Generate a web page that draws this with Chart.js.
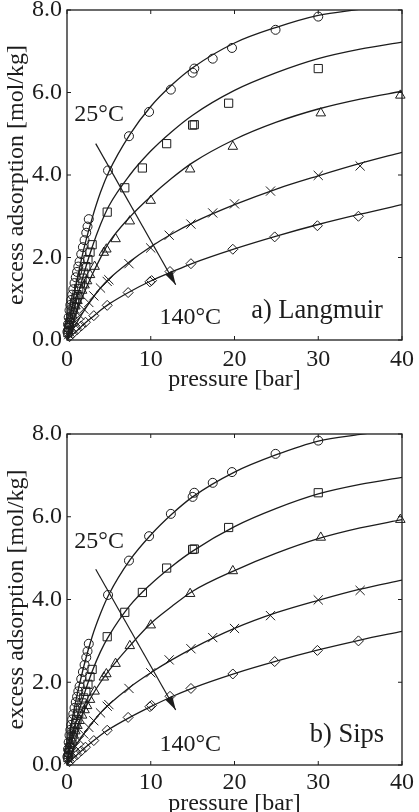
<!DOCTYPE html>
<html><head><meta charset="utf-8">
<script src="https://cdn.jsdelivr.net/npm/chart.js@4.4.0/dist/chart.umd.min.js"></script>
<style>
html,body{margin:0;padding:0;background:#fff;overflow:hidden;width:419px;height:812px;}
.wrap{position:absolute;left:0;width:419px;}
canvas{display:block;}
</style></head><body>
<div class="wrap" style="top:0;height:406px"><canvas id="c1" width="419" height="406" style="width:419px;height:406px"></canvas></div>
<div class="wrap" style="top:406px;height:420px"><canvas id="c2" width="419" height="420" style="width:419px;height:420px"></canvas></div>
<script>
// ---------- axis ticks ----------
const xTicks = [0, 10, 20, 30, 40];
const yTicks = [0, 2, 4, 6, 8];
const yTickLabels = ['0.0', '2.0', '4.0', '6.0', '8.0'];

// ---------- measured points (same in both panels) ----------
// 25°C (circles)
const pCircle = [0.05,0.12,0.2,0.3,0.4,0.5,0.62,0.75,0.9,1.05,1.2,1.35,1.5,1.7,1.9,2.1,2.3,2.45,2.6,4.9,7.4,9.8,12.4,15.0,15.2,17.4,19.7,24.9,30.0];
const qCircle = [0.2,0.38,0.55,0.72,0.85,0.97,1.1,1.23,1.38,1.52,1.65,1.78,1.9,2.08,2.25,2.42,2.6,2.75,2.93,4.11,4.94,5.53,6.07,6.48,6.58,6.82,7.08,7.52,7.84];
// squares
const pSquare = [0.1,0.2,0.3,0.45,0.6,0.75,0.9,1.05,1.2,1.4,1.6,1.8,2.0,2.25,2.5,2.75,3.0,4.8,6.9,9.0,11.9,15.0,15.2,19.3,30.0];
const qSquare = [0.18,0.3,0.42,0.55,0.68,0.8,0.9,1.0,1.1,1.25,1.38,1.5,1.62,1.78,1.95,2.13,2.31,3.1,3.69,4.17,4.76,5.21,5.22,5.74,6.58];
// triangles
const pTri = [0.15,0.3,0.45,0.6,0.8,1.0,1.25,1.5,1.8,2.1,2.4,2.75,3.3,4.4,4.7,5.8,7.5,10.0,14.7,19.8,30.3,39.8];
const qTri = [0.22,0.38,0.5,0.6,0.72,0.82,0.95,1.07,1.2,1.33,1.43,1.58,1.78,2.12,2.2,2.45,2.88,3.38,4.14,4.69,5.5,5.93];
// crosses
const pCross = [0.2,0.6,1.0,1.5,2.0,2.6,3.2,4.0,4.8,5.0,7.4,10.0,12.2,14.8,17.4,20.0,24.3,30.0,35.0];
const qCross = [0.13,0.31,0.45,0.6,0.75,0.91,1.07,1.26,1.42,1.46,1.85,2.23,2.54,2.81,3.08,3.3,3.61,3.99,4.22];
// 140°C (diamonds)
const pDia = [0.3,0.7,1.2,1.7,2.2,3.2,4.8,7.3,9.9,10.1,12.3,14.8,19.8,24.8,29.9,34.8];
const qDia = [0.08,0.16,0.25,0.34,0.43,0.59,0.84,1.15,1.41,1.44,1.66,1.85,2.2,2.5,2.77,3.0];

// ---------- fitted curves ----------
const fitP = [0,0.5,1,2,3,4,5,7.5,10,12.5,15,20,25,30,35,40];
// a) Langmuir
const lang1 = [0,0.68,1.25,2.2,2.95,3.58,4.08,4.98,5.66,6.18,6.6,7.2,7.58,7.87,8.02,8.17];
const lang2 = [0,0.44,0.86,1.6,2.25,2.8,3.25,4.0,4.58,5.05,5.45,6.05,6.48,6.82,7.05,7.22];
const lang3 = [0,0.31,0.6,1.12,1.58,1.99,2.36,2.98,3.48,3.92,4.3,4.86,5.28,5.6,5.84,6.03];
const lang4 = [0,0.18,0.36,0.7,1.0,1.26,1.48,1.9,2.26,2.57,2.84,3.28,3.66,3.98,4.28,4.55];
const lang5 = [0,0.1,0.19,0.38,0.55,0.72,0.87,1.17,1.43,1.65,1.86,2.21,2.52,2.8,3.05,3.28];
// b) Sips
const sips1 = [0,0.95,1.5,2.38,3.1,3.66,4.12,4.95,5.56,6.06,6.48,7.08,7.5,7.83,7.99,8.13];
const sips2 = [0,0.6,1.0,1.68,2.26,2.74,3.12,3.85,4.37,4.8,5.17,5.76,6.2,6.55,6.78,6.95];
const sips3 = [0,0.52,0.82,1.3,1.68,2.0,2.28,2.88,3.42,3.83,4.2,4.7,5.12,5.47,5.73,5.93];
const sips4 = [0,0.27,0.45,0.75,1.02,1.26,1.46,1.88,2.23,2.54,2.82,3.3,3.68,3.98,4.25,4.47];
const sips5 = [0,0.12,0.21,0.39,0.56,0.72,0.86,1.15,1.41,1.65,1.86,2.21,2.51,2.78,3.02,3.23];

// ---------- temperature arrow ----------
const arrowP = [3.43, 12.98];
const arrowQa = [4.76, 1.34];
const arrowQb = [4.73, 1.33];

// ---------- labels ----------
const lblLow = '25°C', lblHigh = '140°C';
const panelA = 'a) Langmuir', panelB = 'b) Sips';

const INK = '#1c1c1c';
const FONT = '"Liberation Serif", "Times New Roman", serif';

const pts = (px, py) => px.map((p, i) => ({x: p, y: py[i]}));

function markerSet(px, py, style, r) {
  return { type: 'scatter', data: pts(px, py), showLine: false, pointStyle: style,
    pointRadius: r, pointBorderWidth: 1, pointBorderColor: INK,
    pointBackgroundColor: 'rgba(0,0,0,0)', clip: false, order: 1 };
}
function curveSet(vals) {
  return { type: 'line', data: pts(fitP, vals), showLine: true, borderColor: INK,
    borderWidth: 1.3, pointRadius: 0, cubicInterpolationMode: 'monotone', fill: false,
    clip: 0, order: 2 };
}

const framePlugin = {
  id: 'frame',
  afterDatasetsDraw(chart, args, opts) {
    const {ctx, chartArea: a, scales: {x, y}} = chart;
    ctx.save();
    ctx.strokeStyle = INK;
    ctx.lineWidth = 1.3;
    ctx.strokeRect(a.left, a.top, a.right - a.left, a.bottom - a.top);
    ctx.lineWidth = 1;
    ctx.beginPath();
    xTicks.forEach(t => { const px = x.getPixelForValue(t);
      ctx.moveTo(px, a.bottom); ctx.lineTo(px, a.bottom - 4);
      ctx.moveTo(px, a.top); ctx.lineTo(px, a.top + 4); });
    yTicks.forEach(t => { const py = y.getPixelForValue(t);
      ctx.moveTo(a.left, py); ctx.lineTo(a.left + 4, py);
      ctx.moveTo(a.right, py); ctx.lineTo(a.right - 4, py); });
    ctx.stroke();
    // arrowhead
    const x0 = x.getPixelForValue(opts.ap[0]), y0 = y.getPixelForValue(opts.aq[0]);
    const x1 = x.getPixelForValue(opts.ap[1]), y1 = y.getPixelForValue(opts.aq[1]);
    const ang = Math.atan2(y1 - y0, x1 - x0);
    const L = 14, W = 4;
    ctx.fillStyle = INK;
    ctx.beginPath();
    ctx.moveTo(x1, y1);
    ctx.lineTo(x1 - L * Math.cos(ang) + W * Math.sin(ang), y1 - L * Math.sin(ang) - W * Math.cos(ang));
    ctx.lineTo(x1 - L * Math.cos(ang) - W * Math.sin(ang), y1 - L * Math.sin(ang) + W * Math.cos(ang));
    ctx.closePath();
    ctx.fill();
    // text labels
    ctx.textAlign = 'center';
    ctx.textBaseline = 'alphabetic';
    opts.labels.forEach(l => {
      ctx.font = l.s + 'px ' + FONT;
      ctx.fillText(l.t, x.getPixelForValue(l.p), y.getPixelForValue(l.q));
    });
    ctx.restore();
  }
};

function makeChart(id, curves, arrowQ, labels, padTop, xAxisH, xTickPad, xTitlePad) {
  const datasets = [
    ...curves.map(curveSet),
    { type: 'line', data: pts(arrowP, arrowQ), borderColor: INK, borderWidth: 1.2, pointRadius: 0, fill: false, clip: false, order: 3 },
    markerSet(pCircle, qCircle, 'circle', 4.5),
    markerSet(pSquare, qSquare, 'rect', 5.8),
    markerSet(pTri, qTri, 'triangle', 5.5),
    markerSet(pCross, qCross, 'crossRot', 6.5),
    markerSet(pDia, qDia, 'rectRot', 5),
  ];
  return new Chart(document.getElementById(id), {
    type: 'scatter',
    data: { datasets },
    options: {
      responsive: false, animation: false, events: [],
      devicePixelRatio: 1,
      layout: { padding: { top: padTop, right: 17, left: 0, bottom: 0 } },
      plugins: { legend: { display: false }, tooltip: { enabled: false },
        frame: { ap: arrowP, aq: arrowQ, labels } },
      scales: {
        x: { type: 'linear', min: 0, max: 40,
          grid: { display: false, drawTicks: false }, border: { display: false },
          afterBuildTicks: s => { s.ticks = xTicks.map(v => ({value: v})); },
          ticks: { color: INK, font: { family: FONT, size: 24 }, padding: xTickPad, maxRotation: 0, autoSkip: false,
            callback: v => String(v) },
          title: { display: true, text: 'pressure [bar]', color: INK, font: { family: FONT, size: 24 },
            padding: { top: 0, bottom: xTitlePad } },
          afterFit: s => { s.height = xAxisH; s.paddingLeft = 0; s.paddingRight = 0; } },
        y: { type: 'linear', min: 0, max: 8,
          grid: { display: false, drawTicks: false }, border: { display: false },
          afterBuildTicks: s => { s.ticks = yTicks.map(v => ({value: v})); },
          ticks: { color: INK, font: { family: FONT, size: 24 }, padding: 5, autoSkip: false,
            callback: v => yTickLabels[yTicks.indexOf(v)] },
          title: { display: true, text: 'excess adsorption [mol/kg]', color: INK, font: { family: FONT, size: 24 },
            padding: { top: 2, bottom: 0 } },
          afterFit: s => { s.width = 67; s.paddingTop = 0; s.paddingBottom = 0; } }
      }
    },
    plugins: [framePlugin]
  });
}

makeChart('c1', [lang1, lang2, lang3, lang4, lang5], arrowQa, [
  { t: lblLow, p: 3.84, q: 5.30, s: 24 },
  { t: lblHigh, p: 14.72, q: 0.39, s: 24 },
  { t: panelA, p: 29.85, q: 0.53, s: 26.5 }
], 10, 66, 5, 12);

makeChart('c2', [sips1, sips2, sips3, sips4, sips5], arrowQb, [
  { t: lblLow, p: 3.84, q: 5.24, s: 24 },
  { t: lblHigh, p: 14.72, q: 0.34, s: 24 },
  { t: panelB, p: 33.43, q: 0.56, s: 26.5 }
], 28, 61, 3, 8);
</script>
</body></html>
